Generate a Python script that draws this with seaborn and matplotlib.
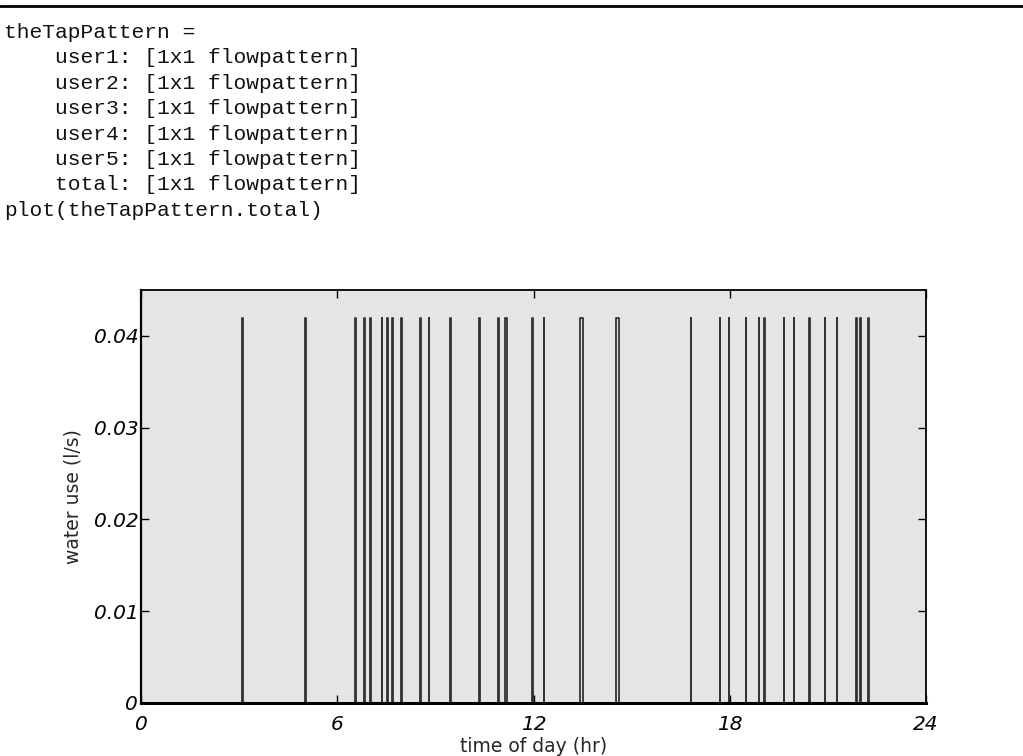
import numpy as np
import pandas as pd
import matplotlib
matplotlib.use("Agg")
import matplotlib.pyplot as plt
import seaborn as sns
from matplotlib.lines import Line2D

# ---- data ----
code_lines = [
    "theTapPattern =",
    "    user1: [1x1 flowpattern]",
    "    user2: [1x1 flowpattern]",
    "    user3: [1x1 flowpattern]",
    "    user4: [1x1 flowpattern]",
    "    user5: [1x1 flowpattern]",
    "    total: [1x1 flowpattern]",
    "plot(theTapPattern.total)",
]
tap_starts = [3.09, 5.01, 6.55, 6.83, 7.01, 7.36, 7.52, 7.68, 7.96, 8.53, 8.80,
              9.46, 10.34, 10.91, 11.12, 11.95, 12.31, 13.42, 14.52, 16.81,
              17.70, 17.97, 18.50, 18.88, 19.05, 19.65, 19.96, 20.42, 20.90,
              21.27, 21.87, 21.99, 22.24]
tap_durations = [0.02, 0.03, 0.03, 0.02, 0.01, 0.02, 0.02, 0.03, 0.02, 0.02, 0.02,
                 0.02, 0.02, 0.02, 0.07, 0.02, 0.02, 0.09, 0.09, 0.01,
                 0.01, 0.02, 0.01, 0.02, 0.02, 0.01, 0.01, 0.02, 0.01,
                 0.01, 0.02, 0.02, 0.02]
tap_flow = 0.042
x_ticks = [0, 6, 12, 18, 24]
y_ticks = [0, 0.01, 0.02, 0.03, 0.04]
y_tick_labels = ["0", "0.01", "0.02", "0.03", "0.04"]

# build the pulse trace (time, flow)
t, q = [0.0], [0.0]
for s, d in zip(tap_starts, tap_durations):
    t += [s, s, s + d, s + d]
    q += [0.0, tap_flow, tap_flow, 0.0]
t.append(24.0)
q.append(0.0)
df = pd.DataFrame({"time": t, "flow": q})

sns.set_style("white")
fig = plt.figure(figsize=(10.23, 7.56), dpi=100)
fig.patch.set_facecolor("white")

# header rule
fig.add_artist(Line2D([0, 1], [1 - 6 / 756, 1 - 6 / 756], color="black", lw=2.0))

# code text
for i, line in enumerate(code_lines):
    yb = 38 + i * 25.4
    fig.text(4 / 1023, 1 - yb / 756, line, family="Liberation Mono",
             fontsize=15.3, va="baseline", ha="left", color="#111111")

ax = fig.add_axes([141 / 1023, 1 - 703 / 756, (926 - 141) / 1023, (703 - 290) / 756])
ax.set_facecolor("#e5e5e5")
sns.lineplot(data=df, x="time", y="flow", sort=False, estimator=None,
             color="#333333", lw=1.3, ax=ax)
ax.set_xlim(0, 24)
ax.set_ylim(0, 0.045)
ax.set_xticks(x_ticks)
ax.set_xticklabels([str(v) for v in x_ticks], fontstyle="italic", fontsize=14.5)
ax.set_yticks(y_ticks)
ax.set_yticklabels(y_tick_labels, fontstyle="italic", fontsize=14.5)
ax.tick_params(direction="in", length=6, width=1, top=True, right=True,
               left=True, bottom=True, colors="black")
ax.tick_params(axis="x", pad=9)
ax.tick_params(axis="y", pad=2)
for sp in ax.spines.values():
    sp.set_visible(True)
    sp.set_color("black")
    sp.set_linewidth(1.3)
ax.spines["bottom"].set_linewidth(2.2)
ax.spines["left"].set_linewidth(1.6)
ax.set_xlabel("time of day (hr)", fontsize=13.5, labelpad=2)
ax.set_ylabel("water use (l/s)", fontsize=13.5, labelpad=8)
ax.grid(False)

fig.savefig("out.png", dpi=100)
